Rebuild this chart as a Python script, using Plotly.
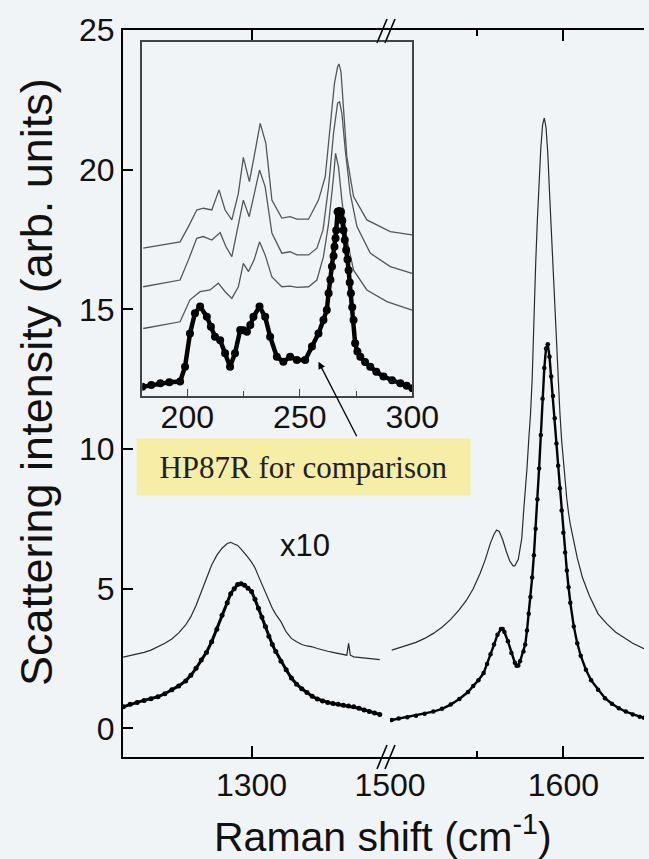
import plotly.graph_objects as go

# ---------------- data ----------------
# main panel, left segment (D band)
d_x = [1226, 1230, 1234, 1238, 1242, 1246, 1250, 1254, 1258, 1262, 1265, 1268, 1271, 1274, 1277,
       1280, 1283, 1286, 1288, 1290, 1292, 1294, 1296, 1298, 1300, 1302, 1304, 1306, 1308, 1310,
       1312, 1314, 1317, 1320, 1323, 1326, 1329, 1332, 1335, 1338, 1341, 1344, 1347, 1350, 1353,
       1356, 1359, 1362, 1365, 1368, 1371, 1374]
d_thick = [0.77, 0.86, 0.93, 1.00, 1.06, 1.13, 1.24, 1.38, 1.52, 1.70, 1.90, 2.15, 2.45, 2.72, 3.10,
           3.55, 4.05, 4.50, 4.82, 5.00, 5.15, 5.18, 5.12, 5.02, 4.90, 4.62, 4.30, 3.98, 3.65, 3.30,
           3.00, 2.75, 2.40, 2.10, 1.80, 1.58, 1.42, 1.28, 1.15, 1.05, 0.98, 0.93, 0.89, 0.86, 0.83,
           0.80, 0.77, 0.72, 0.66, 0.60, 0.55, 0.50]
d_thin_x = [1226, 1230, 1234, 1238, 1242, 1246, 1250, 1254, 1258, 1262, 1265, 1268, 1271, 1274, 1277,
            1280, 1283, 1286, 1288, 1290, 1292, 1294, 1296, 1298, 1300, 1302, 1304, 1306, 1308, 1310,
            1312, 1314, 1317, 1320, 1323, 1326, 1329, 1332, 1335, 1338, 1341, 1344, 1347, 1350, 1353,
            1355, 1356, 1357, 1359, 1362, 1365, 1368, 1371, 1374]
d_thin = [2.55, 2.60, 2.66, 2.72, 2.80, 2.92, 3.05, 3.20, 3.42, 3.70, 4.00, 4.40, 4.90, 5.40, 5.85,
          6.20, 6.45, 6.62, 6.66, 6.60, 6.55, 6.42, 6.28, 6.12, 5.95, 5.75, 5.45, 5.15, 4.85, 4.55,
          4.30, 4.08, 3.82, 3.45, 3.22, 3.10, 3.00, 2.95, 2.92, 2.86, 2.80, 2.76, 2.72, 2.68, 2.64,
          2.62, 3.04, 2.62, 2.56, 2.54, 2.50, 2.49, 2.47, 2.46]

# main panel, right segment (G band)
g_x = [1501, 1505, 1510, 1515, 1520, 1525, 1530, 1535, 1540, 1545, 1548, 1551, 1554, 1556, 1558,
       1560, 1562, 1564, 1565, 1566, 1568, 1570, 1572, 1573, 1574, 1575, 1577, 1578, 1579, 1580,
       1581, 1582, 1583, 1584, 1585, 1586, 1587, 1588, 1589, 1590, 1591, 1592, 1593, 1594, 1595,
       1596, 1597, 1598, 1599, 1600, 1601, 1602, 1603, 1604, 1606, 1608, 1610, 1613, 1616, 1620,
       1624, 1628, 1632, 1636, 1640, 1644, 1646.5]
g_thick = [0.30, 0.35, 0.40, 0.45, 0.52, 0.60, 0.70, 0.85, 1.05, 1.30, 1.52, 1.72, 1.98, 2.30, 2.65,
           3.00, 3.35, 3.56, 3.56, 3.45, 3.12, 2.70, 2.35, 2.24, 2.25, 2.40, 2.75, 3.00, 3.50, 4.10,
           4.70, 5.40, 6.20, 7.15, 8.20, 9.30, 10.50, 11.80, 12.90, 13.60, 13.75, 13.30, 12.60, 11.90, 11.10,
           10.20, 9.40, 8.60, 7.80, 7.00, 6.30, 5.65, 5.05, 4.50, 3.65, 3.05, 2.60, 2.10, 1.72, 1.38,
           1.08, 0.88, 0.72, 0.60, 0.50, 0.42, 0.38]
g_thin_x = [1501, 1505, 1510, 1515, 1520, 1525, 1530, 1535, 1540, 1544, 1548, 1552, 1555, 1558, 1560,
            1561.5, 1563, 1565, 1567, 1569, 1571, 1572, 1574, 1576, 1577, 1578, 1579, 1580, 1581, 1582,
            1583, 1584, 1585, 1586, 1587, 1588, 1589, 1590, 1591, 1592, 1593, 1594, 1595, 1596, 1597,
            1598, 1599, 1600, 1601, 1602, 1603, 1604, 1606, 1608, 1611, 1615, 1620, 1625, 1630, 1635,
            1640, 1646.5]
g_thin = [2.80, 2.88, 2.97, 3.08, 3.22, 3.40, 3.62, 3.90, 4.25, 4.58, 5.00, 5.55, 6.05, 6.65, 6.95,
          7.10, 7.05, 6.75, 6.35, 6.00, 5.82, 5.82, 6.05, 6.80, 7.70, 8.40, 9.30, 10.30, 11.20, 12.50,
          15.00, 16.60, 18.20, 19.60, 20.80, 21.60, 21.85, 21.50, 20.60, 19.20, 17.80, 16.50, 15.30, 13.80, 12.50,
          11.30, 10.30, 9.50, 8.80, 8.20, 7.70, 7.30, 6.70, 6.10, 5.40, 4.75, 4.10, 3.75, 3.45, 3.25,
          3.05, 2.85]

# inset (RBM region), arbitrary units
rbm_x = [180, 184, 188, 192, 196.8, 199, 201.2, 203.4, 205.7, 208.7, 210.5, 212.3, 214.6, 216.8, 219,
         221.2, 223.5, 225, 226.5, 228, 229.4, 232.1, 234.6, 236.8, 239.8, 242.7, 245.7, 248.7, 252.4, 255.4,
         258.3, 260.5, 262, 262.8, 263.6, 264.3, 265, 265.4, 265.9, 266.2, 266.8, 267.5, 268.3, 268.9, 269.4,
         270, 270.6, 271.2, 271.7, 272.2, 272.7, 273.3, 273.9, 274.6, 275.6, 276.9, 279, 281.3, 284, 287.2,
         291, 294.7, 297.5, 300]
rbm_thick = [0.25, 0.30, 0.35, 0.38, 0.40, 0.82, 1.76, 2.33, 2.52, 2.23, 1.95, 1.67, 1.57, 1.20, 0.82,
             1.20, 1.86, 1.85, 1.81, 2.00, 2.23, 2.52, 2.23, 1.67, 1.10, 0.96, 1.10, 1.01, 1.01, 1.39,
             1.76, 2.14, 2.42, 2.90, 3.28, 3.65, 3.95, 4.21, 4.45, 4.68, 5.20, 5.22, 5.20, 4.95, 4.68,
             4.40, 4.12, 3.85, 3.55, 3.20, 2.90, 2.50, 2.14, 1.48, 1.25, 1.10, 0.95, 0.82, 0.68, 0.54,
             0.44, 0.35, 0.28, 0.21]
rbm1_x = [180.4, 196.8, 201.2, 205.7, 210.1, 213.8, 216.8, 219.8, 222.7, 224.9, 227.2, 229.7, 232.1, 234.6, 237.6,
          242, 245.7, 248.7, 253.9, 257.6, 260.5, 262.8, 265, 265.9, 267.2, 268.7, 271, 273.9, 279.8, 288.7, 299.9]
rbm1 = [1.90, 2.09, 2.71, 2.94, 2.99, 3.18, 2.94, 2.75, 3.08, 3.74, 3.51, 3.84, 4.35, 3.98, 3.36,
        3.08, 3.10, 3.06, 3.08, 3.27, 3.93, 4.87, 6.19, 6.85, 6.47, 5.53, 4.40, 3.55, 2.99, 2.66, 2.42]
rbm2_x = [180.4, 196.8, 200.5, 204.2, 207.1, 210.9, 214.6, 217.2, 219.8, 222.3, 224.9, 227.5, 229.7, 232.1, 234.6,
          237.6, 242, 245.7, 248.7, 253.9, 257.6, 260.3, 262.8, 265, 266.8, 267.7, 268.7, 270.2, 272.4, 275.4,
          281.3, 290.2, 299.9]
rbm2 = [3.08, 3.27, 3.84, 4.45, 4.50, 4.40, 4.61, 4.21, 3.93, 4.68, 5.53, 5.06, 5.72, 6.38, 5.91,
        4.60, 4.03, 4.07, 3.98, 3.98, 4.17, 4.68, 5.91, 7.42, 8.27, 8.31, 7.98, 6.95, 5.72, 4.78,
        4.03, 3.65, 3.46]
rbm3_x = [180.4, 196.8, 200.5, 204.2, 207.1, 210.9, 214.1, 216.8, 219.8, 222.7, 224.9, 227.6, 229.7, 232.4, 234.9,
          237.6, 242, 245.7, 248.7, 253.9, 258.3, 261.3, 263.5, 265.4, 266.8, 267.4, 268.3, 269.4, 270.9, 273.9,
          279.8, 290.2, 299.9]
rbm3 = [4.17, 4.35, 4.78, 5.25, 5.30, 5.25, 5.82, 5.25, 4.97, 5.72, 6.74, 6.05, 6.76, 7.70, 7.14,
        5.53, 5.02, 5.06, 4.99, 4.99, 5.53, 6.19, 7.61, 8.83, 9.30, 9.38, 9.16, 8.08, 6.76, 5.63,
        4.97, 4.64, 4.55]

y_ticks = [0, 5, 10, 15, 20, 25]
inset_ticks = [200, 250, 300]

# ---------------- styling ----------------
BG = "#f1f4f7"
FONT = "Liberation Sans, Arial, sans-serif"
W, H = 649, 859
L, R, T, B = 123, 5, 30, 102
PW, PH = W - L - R, H - T - B


def px_to_paper(px, py):
    return (px - L) / PW, (H - B - py) / PH


brk = (390 - L) / PW
ix0, iy0 = px_to_paper(142.3, 395.7)
ix1, iy1 = px_to_paper(412.3, 42)

fig = go.Figure()

thin_main = dict(color="#2a2a2a", width=1.2)
thin_inset = dict(color="#555555", width=1.3)

fig.add_trace(go.Scatter(x=d_thin_x, y=d_thin, mode="lines", line=thin_main, xaxis="x", yaxis="y"))
fig.add_trace(go.Scatter(x=d_x, y=d_thick, mode="lines+markers", line=dict(color="black", width=3),
                         marker=dict(color="black", size=5), xaxis="x", yaxis="y"))
fig.add_trace(go.Scatter(x=g_thin_x, y=g_thin, mode="lines", line=thin_main, xaxis="x2", yaxis="y"))
fig.add_trace(go.Scatter(x=g_x, y=g_thick, mode="lines+markers", line=dict(color="black", width=2.4),
                         marker=dict(color="black", size=4.5), xaxis="x2", yaxis="y"))

for xs, ys in [(rbm1_x, rbm1), (rbm2_x, rbm2), (rbm3_x, rbm3)]:
    fig.add_trace(go.Scatter(x=xs, y=ys, mode="lines", line=thin_inset, xaxis="x3", yaxis="y3"))
fig.add_trace(go.Scatter(x=rbm_x, y=rbm_thick, mode="lines+markers", line=dict(color="black", width=4.5),
                         marker=dict(color="black", size=8), xaxis="x3", yaxis="y3"))

tickfont = dict(family=FONT, size=32, color="#111111")
axcommon = dict(showgrid=False, zeroline=False, showline=True, linecolor="black", linewidth=2,
                ticks="inside", tickcolor="black", tickwidth=1.6, tickfont=tickfont, automargin=False)
YR = [-1.025, 25.0]

fig.update_layout(
    width=W, height=H, autosize=False, margin=dict(l=L, r=R, t=T, b=B),
    paper_bgcolor=BG, plot_bgcolor=BG, showlegend=False,
    xaxis=dict(**axcommon, domain=[0, brk], range=[1225.85, 1379.9], anchor="y",
               tickvals=[1300], ticklen=11, mirror="allticks", ticklabelstandoff=-1),
    xaxis2=dict(**axcommon, domain=[brk, 1], range=[1500, 1646.5], anchor="y",
                tickvals=[1500, 1600], ticklen=11, mirror="allticks", ticklabelstandoff=-1,
                minor=dict(tickvals=[1550], ticklen=6, ticks="inside", tickcolor="black", tickwidth=1.6)),
    yaxis=dict(**axcommon, domain=[0, 1], range=YR, anchor="x",
               tickvals=y_ticks, ticklen=10, ticklabelstandoff=0),
    yaxis2=dict(**axcommon, domain=[0, 1], range=YR, anchor="x2", overlaying="y",
                side="right", tickvals=y_ticks, ticklen=7, showticklabels=False),
    xaxis3=dict(showgrid=False, zeroline=False, showline=True, linecolor="#444444", linewidth=1.5,
                mirror=True, domain=[ix0, ix1], anchor="y3", range=[180, 300], tickvals=inset_ticks,
                ticks="inside", ticklen=7, tickcolor="#444444", tickwidth=1.3, tickfont=tickfont,
                ticklabelstandoff=-8, automargin=False,
                minor=dict(tickvals=[225, 275], ticklen=5, ticks="inside", tickcolor="#444444")),
    yaxis3=dict(showgrid=False, zeroline=False, showline=True, linecolor="#444444", linewidth=1.5,
                mirror=True, domain=[iy0, iy1], anchor="x3", range=[0, 10], showticklabels=False,
                ticks="", automargin=False),
)

# axis break marks "//" on top and bottom frame
shapes = []
for cy in (31, 757):
    for dx in (0, 8):
        x0, y0 = px_to_paper(377 + dx, cy + 12)
        x1, y1 = px_to_paper(387 + dx, cy - 12)
        shapes.append(dict(type="line", xref="paper", yref="paper", x0=x0, y0=y0, x1=x1, y1=y1,
                           line=dict(color="black", width=1.6)))
fig.update_layout(shapes=shapes)

annos = []
bx, by = px_to_paper(303.5, 467)
annos.append(dict(xref="paper", yref="paper", x=bx, y=by, xanchor="center", yanchor="middle",
                  text="HP87R for comparison", showarrow=False, bgcolor="#f6eea6",
                  width=333, height=56, borderpad=0,
                  font=dict(family="Liberation Serif, Times New Roman, serif", size=31, color="#222222")))
annos.append(dict(xref="x3", yref="y3", x=258.3, y=0.96, ax=39, ay=76, text="", showarrow=True,
                  arrowhead=2, arrowsize=1.1, arrowwidth=1.3, arrowcolor="black"))
tx, ty = px_to_paper(305, 545)
annos.append(dict(xref="paper", yref="paper", x=tx, y=ty, xanchor="center", yanchor="middle",
                  text="x10", showarrow=False,
                  font=dict(family=FONT, size=31, color="#111111")))
yx, yy = px_to_paper(36, 382)
annos.append(dict(xref="paper", yref="paper", x=yx, y=yy, xanchor="center", yanchor="middle",
                  text="Scattering intensity (arb. units)",
                  textangle=-90, showarrow=False, font=dict(family=FONT, size=45, color="#111111")))
xx, xy = px_to_paper(383, 834)
annos.append(dict(xref="paper", yref="paper", x=xx, y=xy, xanchor="center", yanchor="middle",
                  text="Raman shift (cm<sup>-1</sup>)", showarrow=False,
                  font=dict(family=FONT, size=41, color="#111111")))
fig.update_layout(annotations=annos)

post = ("document.documentElement.style.margin='0';document.documentElement.style.overflow='hidden';"
        "document.body.style.margin='0';document.body.style.padding='0';document.body.style.overflow='hidden';"
        "var gd=document.getElementById('{plot_id}');"
        "Plotly.relayout(gd,{width:649,height:859});")
fig.write_html("out.html", config={"responsive": False, "displayModeBar": False}, post_script=post)
